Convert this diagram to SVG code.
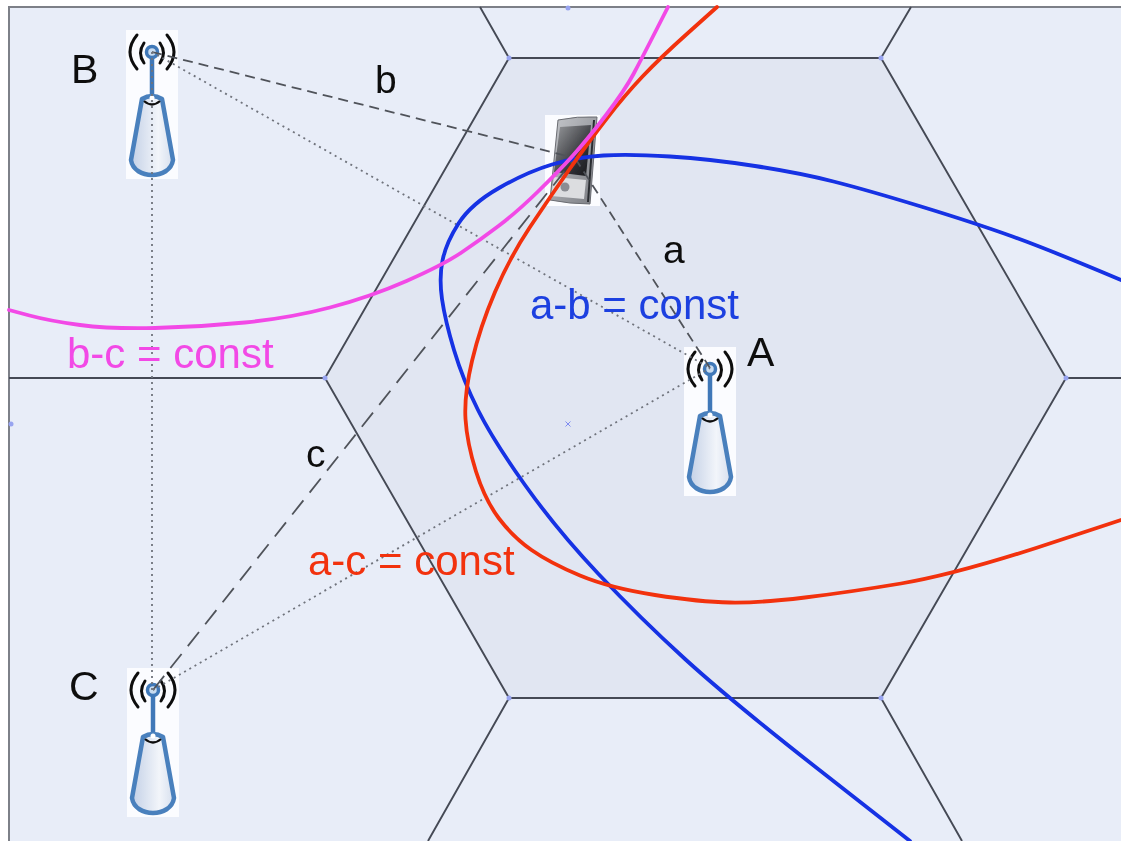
<svg xmlns="http://www.w3.org/2000/svg" width="1121" height="841" viewBox="0 0 1121 841">
<style>
.cell{fill:none;stroke:#454a55;stroke-width:1.9}
.frame{fill:none;stroke:#7d8088;stroke-width:2}
.vtx{fill:#98a4f0}
.dash{fill:none;stroke:#50535a;stroke-width:1.8;stroke-dasharray:10 6}
.ldash{fill:none;stroke:#50535a;stroke-width:1.8;stroke-dasharray:18 10}
.dot{fill:none;stroke:#6f737c;stroke-width:1.8;stroke-dasharray:2 4}
.curve{fill:none;stroke-width:3.8;stroke-linecap:round;stroke-linejoin:round}
text{font-family:"Liberation Sans",Arial,sans-serif}
.lab{font-size:41px;fill:#111}
.side{font-size:39px;fill:#111}
.eq{font-size:42px}
.wave{fill:none;stroke:#111;stroke-width:3;stroke-linecap:round}
</style>
<defs>
<filter id="soft" x="0" y="0" width="100%" height="100%"><feGaussianBlur stdDeviation="0.45"/></filter>
<linearGradient id="bodyFill" x1="0" x2="1" y1="0" y2="0"><stop offset="0" stop-color="#c3d0e6"/><stop offset="0.65" stop-color="#f2f5fa"/><stop offset="1" stop-color="#d6dfee"/></linearGradient>
<linearGradient id="phoneFill" x1="0" x2="1" y1="0" y2="1"><stop offset="0" stop-color="#c6c8cc"/><stop offset="1" stop-color="#7a7c82"/></linearGradient>
<linearGradient id="screen" x1="0" x2="1" y1="0" y2="1"><stop offset="0" stop-color="#9a9c9f"/><stop offset="0.7" stop-color="#2c2d32"/><stop offset="1" stop-color="#17181c"/></linearGradient>
<g id="tower">
<rect x="-26" y="-22" width="52" height="149" fill="#fbfcff"/>
<path d="M-15,-17Q-29,0-15,17M-8,-9Q-15,1-8,11M8,-9Q15,1 8,11M15,-17Q29,0 15,17" class="wave"/>
<path d="M0,4V46" stroke="#3f78b8" stroke-width="4.5" fill="none"/>
<circle cx="0" cy="0" r="5.5" fill="#c9dcf0" stroke="#3f78b8" stroke-width="3.5"/>
<path d="M-10,47Q0,41 10,47L21,108C18,128-18,128-21,108Z" fill="url(#bodyFill)" stroke="#4a80bd" stroke-width="4.5" stroke-linejoin="round"/>
<path d="M-8,49Q0,56 8,49" fill="none" stroke="#111" stroke-width="2.2"/>
<circle cx="0" cy="46" r="2.5" fill="#fff"/>
</g>
</defs>

<g filter="url(#soft)">
<rect x="0" y="0" width="1121" height="841" fill="#fff"/>
<rect x="9" y="7" width="1112" height="834" fill="#e8edf8"/>
<path d="M509,58H881L1066,378L881,698H509L325,378Z" fill="#e1e6f2"/>

<g id="grid">
<path class="frame" d="M1121,7H9V841"/>
<path class="cell" d="M509,58H881L1066,378L881,698H509L325,378Z"/>
<path class="cell" d="M509,58L480,7M881,58L911,7M325,378H9M1066,378H1121M509,698L428,841M881,698L962,841"/>
<g class="vtx">
<circle cx="509" cy="58" r="2.5"/><circle cx="881" cy="58" r="2.5"/><circle cx="1066" cy="378" r="2.5"/><circle cx="881" cy="698" r="2.5"/><circle cx="509" cy="698" r="2.5"/><circle cx="325" cy="378" r="2.5"/><circle cx="568" cy="8" r="2.5"/><circle cx="11" cy="424" r="2.5"/>
</g>
<path d="M565.5,421.5l5,5m0,-5l-5,5" stroke="#7f8cf0" stroke-width="1" fill="none"/>
</g>

<g id="tower-B"><use href="#tower" x="152" y="52"/></g>
<g id="tower-A"><use href="#tower" x="710" y="369"/></g>
<g id="tower-C"><use href="#tower" x="153" y="690"/></g>

<g id="phone">
<rect x="545" y="115" width="55" height="91" fill="#fbfcff"/>
<path d="M558,120Q577,116 597,117L590,204Q570,204 550,200Z" fill="url(#phoneFill)" stroke="#6a6c72" stroke-width="1"/>
<path d="M560,127L591,125L586,176L554,172Z" fill="url(#screen)"/>
<path d="M554,177L586,180L584,199L551,196Z" fill="#dcdde0"/>
<circle cx="565" cy="187" r="4.5" fill="#8a8c92"/>
<path d="M594,120L588,202" stroke="#2c2d32" stroke-width="2" fill="none"/>
</g>

<g id="connectors">
<path class="dash" d="M152,52L575,158"/>
<path class="dash" d="M575,158L710,368"/>
<path class="ldash" d="M153,690L575,158"/>
<path class="dot" d="M152,52L710,368"/>
<path class="dot" d="M152,52V690"/>
<path class="dot" d="M153,690L710,368"/>
</g>

<g id="hyperbolas">
<path class="curve" stroke="#1430e4" d="M910,841L820,770.5Q730,700 685,659Q640,618 598.5,574Q557,530 525,485Q493,440 478,410Q463,380 454,350Q445,320 442,299Q439,278 442.5,260.5Q446,243 458.5,223.5Q471,204 499,188Q527,172 552,164.5Q577,157 603.5,155.5Q630,154 670,156.5Q710,159 755,166Q800,173 833.5,181.5Q867,190 921,206.5Q975,223 1012.5,236.5Q1050,250 1121,280"/>
<path class="curve" stroke="#f2300f" d="M717,7L688.5,32.5Q660,58 642.5,76.5Q625,95 607.5,117.5Q590,140 570,168.5Q550,197 530,227Q510,257 495,292Q480,327 472,361Q464,395 465.5,419Q467,443 476,471.5Q485,500 499,518.5Q513,537 531.5,550Q550,563 580,575.5Q610,588 655,595Q700,602 730,602.5Q760,603 805,597.5Q850,592 901,583.5Q952,575 1036,548L1121,520"/>
<path class="curve" stroke="#f24ae6" d="M668,7L655,32.5Q642,58 633.5,74Q625,90 606,115Q587,140 572.5,156Q558,172 537.5,192Q517,212 498.5,226Q480,240 461.5,252.5Q443,265 406.5,281Q370,297 330,307.5Q290,318 245,322.5Q200,327 155,328Q110,329 80,325Q50,321 29.5,315.5L9,310"/>
</g>

<g id="labels">
<text class="lab" x="71" y="83">B</text>
<text class="lab" x="747" y="366">A</text>
<text class="lab" x="69" y="700">C</text>
<text class="side" x="375" y="93">b</text>
<text class="side" x="663" y="263">a</text>
<text class="side" x="306" y="467">c</text>
<text class="eq" x="530" y="319" fill="#1f40e0">a-b = const</text>
<text class="eq" x="67" y="368" fill="#f24ae6">b-c = const</text>
<text class="eq" x="308" y="575" fill="#f2300f">a-c = const</text>
</g>
</g>
</svg>
